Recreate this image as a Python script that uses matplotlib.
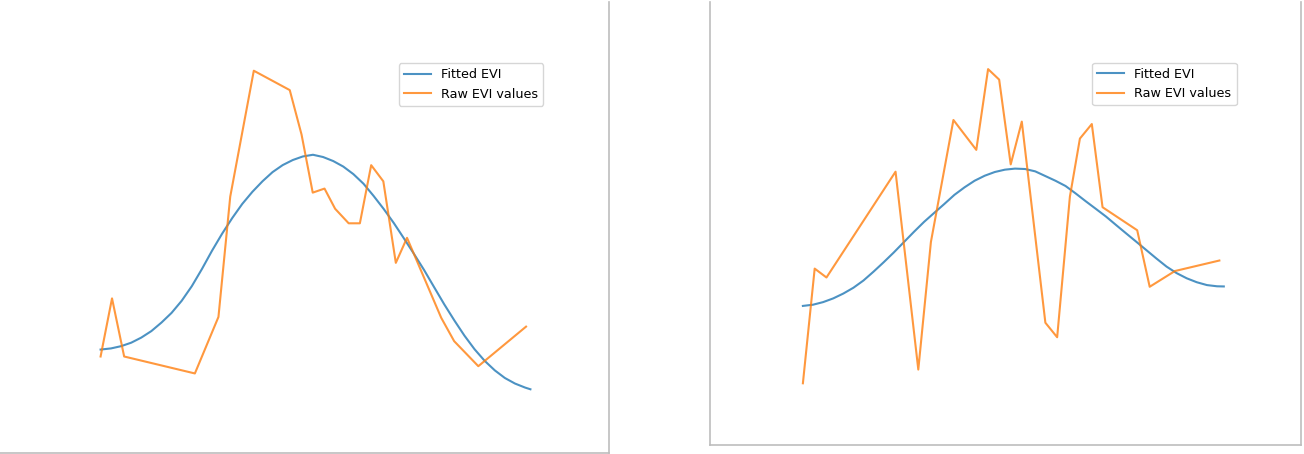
import matplotlib
matplotlib.use('Agg')
import matplotlib.pyplot as plt

# left panel: raw EVI samples (time step, EVI)
left_raw_t = [0.0, 0.97, 2.0, 8.0, 10.0, 11.0, 13.0, 16.05, 17.05, 18.0, 19.0, 19.9,
              21.05, 22.0, 22.96, 23.99, 25.05, 26.0, 28.9, 30.0, 32.05, 36.1]
left_raw_evi = [0.081, 0.153, 0.081, 0.060, 0.130, 0.279, 0.435, 0.411, 0.356, 0.284, 0.289, 0.264,
                0.246, 0.246, 0.318, 0.298, 0.197, 0.228, 0.129, 0.100, 0.069, 0.118]

# left panel: fitted curve
left_fit_t = [0.0, 0.88, 1.74, 2.6, 3.45, 4.31, 5.17, 6.02, 6.88, 7.74, 8.6, 9.45, 10.31,
              11.17, 12.02, 12.88, 13.74, 14.59, 15.45, 16.31, 17.16, 18.02, 18.88, 19.74,
              20.59, 21.45, 22.31, 23.16, 24.02, 24.88, 25.73, 26.59, 27.45, 28.3, 29.16,
              30.02, 30.87, 31.73, 32.59, 33.45, 34.3, 35.16, 36.02, 36.47]
left_fit_evi = [0.0896, 0.0910, 0.0938, 0.0981, 0.1044, 0.1125, 0.1231, 0.135, 0.150, 0.1681,
                0.1894, 0.2119, 0.2331, 0.2525, 0.270, 0.285, 0.2981, 0.3094, 0.3181, 0.3244,
                0.3288, 0.3309, 0.3281, 0.3231, 0.3163, 0.3069, 0.295, 0.280, 0.2638, 0.2463,
                0.2275, 0.2081, 0.1881, 0.1669, 0.1456, 0.1256, 0.1069, 0.090, 0.0756, 0.0638,
                0.0544, 0.0475, 0.0425, 0.0404]

# right panel
right_raw_t = [0.0, 1.0, 2.0, 7.86, 9.79, 10.86, 12.77, 14.71, 15.71, 16.65, 17.63, 18.57,
               20.57, 21.57, 22.65, 23.5, 24.51, 25.42, 28.36, 29.42, 31.56, 35.33]
right_raw_evi = [0.048, 0.190, 0.179, 0.310, 0.065, 0.223, 0.374, 0.337, 0.437, 0.424, 0.319, 0.372,
                 0.123, 0.105, 0.279, 0.351, 0.369, 0.266, 0.2375, 0.1675, 0.187, 0.200]

right_fit_t = [0.0, 0.857, 1.714, 2.571, 3.428, 4.285, 5.141, 5.998, 6.855, 7.712, 8.569,
               9.426, 10.283, 11.14, 11.997, 12.853, 13.71, 14.567, 15.424, 16.281, 17.138,
               17.995, 18.852, 19.709, 20.566, 21.422, 22.279, 23.136, 23.993, 24.85, 25.707,
               26.564, 27.421, 28.278, 29.135, 29.991, 30.848, 31.705, 32.562, 33.419, 34.276,
               35.133, 35.707]
right_fit_evi = [0.1438, 0.1453, 0.1485, 0.1531, 0.1591, 0.1663, 0.1753, 0.1863, 0.1979, 0.210,
                 0.2228, 0.2356, 0.2479, 0.259, 0.270, 0.2813, 0.2906, 0.2988, 0.305, 0.3096,
                 0.3125, 0.3138, 0.3133, 0.3104, 0.3046, 0.2988, 0.2923, 0.2831, 0.2734, 0.264,
                 0.2545, 0.244, 0.2336, 0.2233, 0.2129, 0.2025, 0.1925, 0.1844, 0.178, 0.1731,
                 0.1696, 0.1681, 0.1679]

W, H = 1304, 454
fig = plt.figure(figsize=(W / 100, H / 100), dpi=100)
border = '#bdbdbd'


def frame(rect, sides):
    fr = fig.add_axes(rect, facecolor='none')
    fr.set_xticks([])
    fr.set_yticks([])
    for name, sp in fr.spines.items():
        sp.set_visible(name in sides)
        sp.set_color(border)
        sp.set_linewidth(1.2)
    return fr


# screenshot borders
frame([0, 0.7 / H, 609.3 / W, 451.3 / H], ['right', 'bottom'])
frame([710 / W, 9 / H, 591 / W, 443 / H], ['left', 'bottom', 'right'])

panels = [
    ([79.1 / W, 48.8 / H, 472.8 / W, 350.4 / H], left_fit_t, left_fit_evi, left_raw_t, left_raw_evi,
     (543.3 / W, 1 - 63 / H)),
    ([781.85 / W, 55.0 / H, 463.0 / W, 345.6 / H], right_fit_t, right_fit_evi, right_raw_t, right_raw_evi,
     (1236.7 / W, 1 - 62.7 / H)),
]

for rect, ft, fe, rt, re, anchor in panels:
    ax = fig.add_axes(rect)
    ax.plot(ft, fe, label='Fitted EVI', alpha=0.8)
    ax.plot(rt, re, label='Raw EVI values', alpha=0.8)
    ax.axis('off')
    ax.legend(loc='upper right', bbox_to_anchor=anchor, bbox_transform=fig.transFigure,
              borderaxespad=0, fontsize=9.2, handlelength=2.1)

fig.savefig('out.png', dpi=100)
